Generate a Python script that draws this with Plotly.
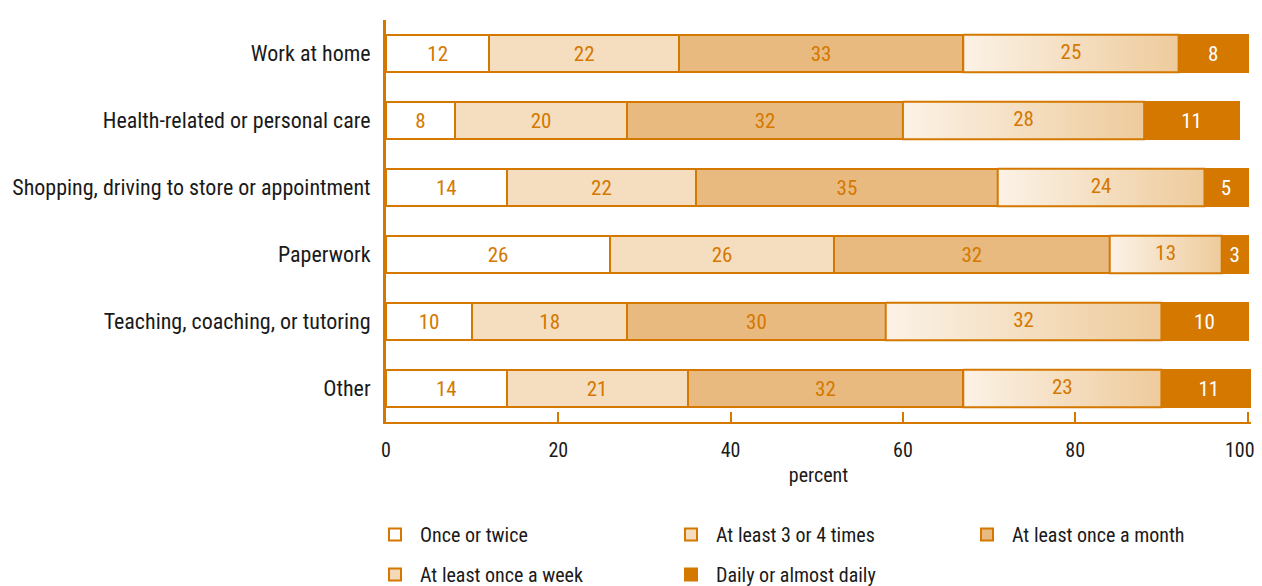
import plotly.graph_objects as go

# data (percent)
categories = ["Work at home", "Health-related or personal care",
              "Shopping, driving to store or appointment", "Paperwork",
              "Teaching, coaching, or tutoring", "Other"]
series_names = ["Once or twice", "At least 3 or 4 times", "At least once a month",
                "At least once a week", "Daily or almost daily"]
once_or_twice = [12, 8, 14, 26, 10, 14]
three_or_four = [22, 20, 22, 26, 18, 21]
once_a_month = [33, 32, 35, 32, 30, 32]
once_a_week = [25, 28, 24, 13, 32, 23]
daily = [8, 11, 5, 3, 10, 11]
x_ticks = [0, 20, 40, 60, 80, 100]
x_tick_labels = ["0", "20", "40", "60", "80", "100"]

ORANGE = "#D47800"
INK = "#1A1A1A"
FONT = "Liberation Sans Narrow, Roboto Condensed, DejaVu Sans Condensed, sans-serif"
BAR_W = 0.56
rows = list(range(len(categories)))

# page body has an 8px margin, so the figure is drawn 8px smaller and shifted
W, H = 1254, 578
ML, MR, MT, MB = 378, 11, 12, 164
PW, PH = W - ML - MR, H - MT - MB

fig = go.Figure()

solid = [
    (once_or_twice, "#FFFFFF", ORANGE, "legend"),
    (three_or_four, "#F5DEC0", ORANGE, "legend2"),
    (once_a_month, "#E8BA80", ORANGE, "legend3"),
    (once_a_week, "#F3D9B8", ORANGE, "legend"),
    (daily, ORANGE, "white", "legend2"),
]
for k, (vals, col, txtcol, leg) in enumerate(solid):
    fig.add_trace(go.Bar(
        y=rows, x=vals, orientation="h", name=series_names[k],
        width=BAR_W, legend=leg, legendgroup=f"g{k}",
        marker=dict(color=col, line=dict(color=ORANGE, width=2)),
        text=None if k == 3 else [str(v) for v in vals],
        textposition="inside", insidetextanchor="middle", textangle=0,
        textfont=dict(color=txtcol, size=21, family=FONT),
        hoverinfo="skip",
    ))

# gradient segments ("At least once a week") drawn over the placeholder bars
for i in rows:
    x0 = once_or_twice[i] + three_or_four[i] + once_a_month[i]
    x1 = x0 + once_a_week[i]
    y0, y1 = i - BAR_W / 2, i + BAR_W / 2
    fig.add_trace(go.Scatter(
        x=[x0, x1, x1, x0, x0], y=[y0, y0, y1, y1, y0],
        mode="lines", fill="toself",
        fillgradient=dict(type="horizontal",
                          colorscale=[[0, "#FBF2E6"], [1, "#EECB9C"]]),
        line=dict(color=ORANGE, width=2),
        showlegend=False, hoverinfo="skip",
    ))

mid_x = [once_or_twice[i] + three_or_four[i] + once_a_month[i] + once_a_week[i] / 2 for i in rows]
fig.add_trace(go.Scatter(
    x=mid_x, y=rows, mode="text", text=[str(v) for v in once_a_week],
    textfont=dict(color=ORANGE, size=21, family=FONT),
    showlegend=False, hoverinfo="skip",
))


def legend_col(px):
    # px: left edge in figure pixels; legend top just under the axis title
    return dict(orientation="v", xref="paper", yref="paper",
                x=(px - ML) / PW, y=(H - MB - 507) / PH,
                xanchor="left", yanchor="top",
                traceorder="grouped", tracegroupgap=11, itemwidth=40,
                font=dict(size=20, family=FONT, color=INK),
                bgcolor="rgba(0,0,0,0)")


# last tick label sits a bit left of its tick so it stays on the page
fig.add_annotation(x=x_ticks[-1], xref="x", y=0, yref="paper",
                   text=x_tick_labels[-1], showarrow=False,
                   xanchor="right", xshift=9, yanchor="middle", yshift=-28,
                   font=dict(size=20, color=INK, family=FONT))

fig.update_layout(
    barmode="stack",
    width=W, height=H,
    margin=dict(l=ML, r=MR, t=MT, b=MB, autoexpand=False),
    plot_bgcolor="white", paper_bgcolor="white",
    font=dict(family=FONT, size=20, color=INK),
    showlegend=True,
    legend=legend_col(362),
    legend2=legend_col(658),
    legend3=legend_col(954),
    xaxis=dict(range=[0, 100.4], tickvals=x_ticks,
               ticktext=x_tick_labels[:-1] + [""],
               ticks="inside", ticklen=10,
               tickwidth=1.5, tickcolor=ORANGE, showline=True, linecolor=ORANGE,
               linewidth=2, showgrid=False, zeroline=False, automargin=False,
               ticklabelstandoff=9,
               tickfont=dict(size=20, color=INK),
               title=dict(text="percent", standoff=7, font=dict(size=20, color=INK))),
    yaxis=dict(range=[5.5, -0.5], tickvals=rows, ticktext=categories,
               showline=True, linecolor=ORANGE, linewidth=3, ticks="",
               showgrid=False, zeroline=False, ticklabelstandoff=8, automargin=False,
               tickfont=dict(size=22, color=INK)),
)

fig.write_html("out.html")
